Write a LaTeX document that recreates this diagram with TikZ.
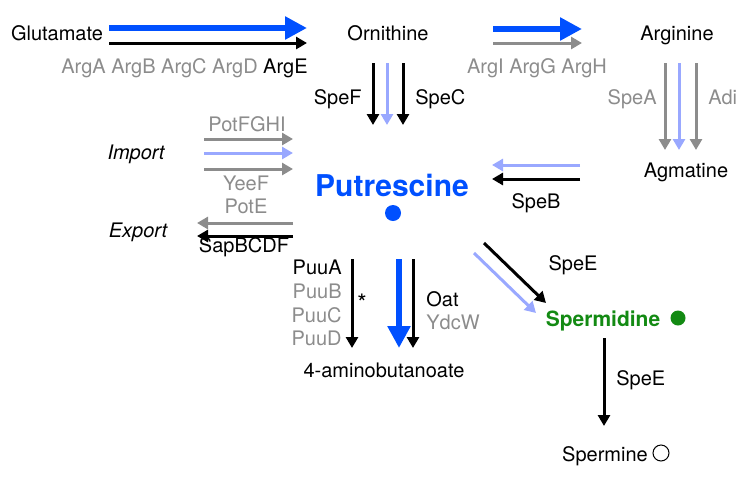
\documentclass[tikz,border=0pt]{standalone}
\usepackage{fontspec}
\setmainfont{TeX Gyre Heros}
\usetikzlibrary{arrows.meta}
\definecolor{fluxblue}{HTML}{0050FF}
\definecolor{lightblue}{HTML}{99A8FF}
\definecolor{enzgray}{HTML}{8C8C8C}
\definecolor{spdgreen}{HTML}{138A13}

\begin{document}
\begin{tikzpicture}[x=0.5pt, y=-0.5pt,
    every node/.style={inner sep=0pt, font=\fontsize{10}{12}\selectfont, text height=7.2pt, text depth=0pt},
    enz/.style={text=enzgray},
    flux/.style={line width=1.5pt, -{Triangle[length=5.5pt, width=6pt]}},
    bigflux/.style={fluxblue, line width=3.4pt, -{Triangle[length=11pt, width=11pt]}},
    dot/.style={circle, text height=0pt, minimum size=8pt}]
    \useasboundingbox (0,0) rectangle (750,483);

    % metabolites
    \node (glu) at (57,33) {Glutamate};
    \node (orn) at (388,33) {Ornithine};
    \node (arg) at (677,33) {Arginine};
    \node (agm) at (686,170) {Agmatine};
    \node[font=\fontsize{15}{18}\selectfont\bfseries, text=fluxblue, text height=10.8pt] (put) at (392,186) {Putrescine};
    \node[dot, fill=fluxblue] (putdot) at (393,213) {};
    \node (gaba) at (384,370) {4-aminobutanoate};
    \node[font=\fontsize{10.5}{12}\selectfont\bfseries, text=spdgreen, text height=7.6pt] (spd) at (603,319) {Spermidine};
    \node[dot, fill=spdgreen, minimum size=7.5pt] (spddot) at (678,318) {};
    \node (spm) at (605,454) {Spermine};
    \node[dot, draw, line width=0.5pt] (spmdot) at (661,453) {};
    \node[font=\fontsize{10}{12}\selectfont\itshape] (imp) at (136,152) {Import};
    \node[font=\fontsize{10}{12}\selectfont\itshape] (exp) at (138,230) {Export};

    % enzymes
    \node[anchor=east] (argAE) at (308,66) {\textcolor{enzgray}{ArgA ArgB ArgC ArgD} ArgE};
    \node[enz] (argIH) at (537,66.5) {ArgI ArgG ArgH};
    \node[anchor=east] (speF) at (362,97.5) {SpeF};
    \node[anchor=west] (speC) at (415,97.5) {SpeC};
    \node[enz, anchor=east] (speA) at (657,97.5) {SpeA};
    \node[enz, anchor=west] (adi) at (708,97.5) {Adi};
    \node[enz] (potF) at (247,124) {PotFGHI};
    \node[enz] (yeeF) at (246,183) {YeeF};
    \node[enz] (potE) at (246,206.5) {PotE};
    \node (sapB) at (244,245.5) {SapBCDF};
    \node (speB) at (536,201.5) {SpeB};
    \node[anchor=east] (puuA) at (342,267) {PuuA};
    \node[enz, anchor=east] (puuB) at (342,291) {PuuB};
    \node[enz, anchor=east] (puuC) at (342,315) {PuuC};
    \node[enz, anchor=east] (puuD) at (342,338) {PuuD};
    \node[font=\fontsize{12}{14}\selectfont] (star) at (362,304) {*};
    \node[anchor=west] (oat) at (426,299) {Oat};
    \node[enz, anchor=west] (ydcW) at (426,322) {YdcW};
    \node (speE) at (573,263.5) {SpeE};
    \node[anchor=west] (speE2) at (616,378.5) {SpeE};

    % arrow ends
    \coordinate (gluOut) at (109,35.5);
    \coordinate (ornIn) at (307,35.5);
    \coordinate (ornOut) at (493,36);
    \coordinate (argIn) at (582,36);
    \coordinate (ornDown) at (388,63);
    \coordinate (putTop) at (388,125);
    \coordinate (argDown) at (680,63);
    \coordinate (agmTop) at (680,150);
    \coordinate (impL) at (204,154);
    \coordinate (impR) at (293,154);
    \coordinate (expR) at (293,229.5);
    \coordinate (expL) at (197,229.5);
    \coordinate (agmL) at (580,172);
    \coordinate (putR) at (492,172);
    \coordinate (putBot) at (382,259);
    \coordinate (gabaTop) at (382,348);
    \coordinate (putSE) at (484,243);
    \coordinate (spdNW) at (546,303);
    \coordinate (spdBot) at (604,338);
    \coordinate (spmTop) at (604,426);

    \draw[bigflux] ([yshift=3.75pt]gluOut) -- ([yshift=3.75pt]ornIn);
    \draw[flux] ([yshift=-3.75pt]gluOut) -- ([yshift=-3.75pt]ornIn);
    \draw[bigflux] ([yshift=3.5pt]ornOut) -- ([yshift=3.5pt]argIn);
    \draw[flux, enzgray] ([yshift=-3.5pt]ornOut) -- ([yshift=-3.5pt]argIn);

    \foreach \dx/\col in {-7.5/black, -0.5/lightblue, 7.5/black}
        \draw[flux, \col] ([xshift=\dx pt]ornDown) -- ([xshift=\dx pt]putTop);
    \foreach \dx/\col in {-7.5/enzgray, -0.5/lightblue, 8/enzgray}
        \draw[flux, \col] ([xshift=\dx pt]argDown) -- ([xshift=\dx pt]agmTop);
    \foreach \dy/\col in {7.5/enzgray, 0.5/lightblue, -7.5/enzgray}
        \draw[flux, \col] ([yshift=\dy pt]impL) -- ([yshift=\dy pt]impR);
    \foreach \dy/\col in {3.25/enzgray, -3.25/black}
        \draw[flux, \col] ([yshift=\dy pt]expR) -- ([yshift=\dy pt]expL);
    \foreach \dy/\col in {3.5/lightblue, -3.5/black}
        \draw[flux, \col] ([yshift=\dy pt]agmL) -- ([yshift=\dy pt]putR);

    \draw[flux] ([xshift=-15pt]putBot) -- ([xshift=-15pt]gabaTop);
    \draw[bigflux] ([xshift=8.5pt]putBot) -- ([xshift=8.5pt]gabaTop);
    \draw[flux] ([xshift=15.5pt]putBot) -- ([xshift=15.5pt]gabaTop);

    \draw[flux] (putSE) -- (spdNW);
    \draw[flux, lightblue] ([shift={(-5pt,-5pt)}]putSE) -- ([shift={(-5pt,-5pt)}]spdNW);
    \draw[flux] (spdBot) -- (spmTop);
\end{tikzpicture}
\end{document}
